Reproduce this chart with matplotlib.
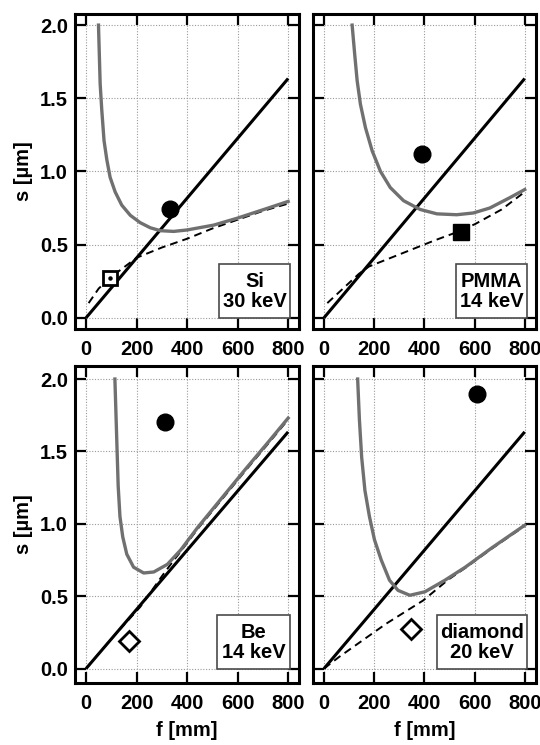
import matplotlib
matplotlib.use("Agg")
import matplotlib.pyplot as plt
from matplotlib.patches import Rectangle

plt.rcParams['font.family'] = ['Liberation Sans', 'DejaVu Sans']
plt.rcParams['font.weight'] = 'bold'

FS = 14.5

# black straight line (same in every panel)
line_f = [0, 800]
line_s = [0.0, 1.635]

# Si 30 keV
si_gray_f = [49, 55.6, 62, 71, 82, 95, 115, 141, 175, 214, 254, 294, 347, 400, 505, 598, 704, 800]
si_gray_s = [2.0, 1.60, 1.42, 1.21, 1.08, 0.96, 0.86, 0.77, 0.70, 0.65, 0.615, 0.595, 0.59, 0.60, 0.633, 0.68, 0.74, 0.795]
si_dash_f = [10, 50, 100, 200, 300, 400, 500, 600, 700, 800]
si_dash_s = [0.10, 0.20, 0.28, 0.41, 0.48, 0.54, 0.61, 0.67, 0.73, 0.78]
si_circle = (331, 0.74)
si_square = (95, 0.27)

# PMMA 14 keV
pm_gray_f = [112, 122, 132, 145, 165, 192, 225, 264, 317, 383, 450, 529, 595, 661, 740, 800]
pm_gray_s = [2.0, 1.805, 1.62, 1.46, 1.30, 1.14, 1.00, 0.89, 0.80, 0.74, 0.71, 0.704, 0.716, 0.75, 0.82, 0.876]
pm_dash_f = [13, 139, 179, 311, 443, 522, 602, 708, 800]
pm_dash_s = [0.10, 0.30, 0.35, 0.44, 0.53, 0.58, 0.64, 0.74, 0.86]
pm_circle = (390, 1.12)
pm_square = (545, 0.585)

# Be 14 keV
be_gray_f = [114, 121, 127, 134, 145, 161, 188, 228, 268, 322, 375, 442, 536, 630, 724, 800]
be_gray_s = [2.0, 1.60, 1.26, 1.05, 0.91, 0.79, 0.70, 0.66, 0.667, 0.72, 0.82, 0.975, 1.175, 1.375, 1.57, 1.73]
be_dash_f = [0, 100, 214, 301, 348, 375, 442, 536, 630, 724, 800]
be_dash_s = [0.0, 0.205, 0.425, 0.64, 0.75, 0.81, 0.965, 1.165, 1.365, 1.56, 1.72]
be_circle = (312, 1.70)
be_diamond = (168, 0.19)

# diamond 20 keV
di_gray_f = [134, 141, 150, 163, 181, 201, 228, 261, 295, 342, 402, 482, 563, 670, 800]
di_gray_s = [2.0, 1.72, 1.46, 1.23, 1.05, 0.89, 0.75, 0.61, 0.54, 0.506, 0.53, 0.61, 0.70, 0.835, 0.99]
di_dash_f = [0, 60, 248, 395, 496, 563, 670, 800]
di_dash_s = [0.0, 0.08, 0.31, 0.47, 0.615, 0.695, 0.83, 0.985]
di_circle = (610, 1.90)
di_diamond = (346, 0.275)

labels = ["Si\n30 keV", "PMMA\n14 keV", "Be\n14 keV", "diamond\n20 keV"]
box_left = [528, 527, 520, 450]

xticks = [0, 200, 400, 600, 800]
yticks = [0.0, 0.5, 1.0, 1.5, 2.0]

W, H = 540, 745
fig = plt.figure(figsize=(W / 100, H / 100), dpi=100)

def frame(l, r, t, b):
    return fig.add_axes([l / W, 1 - b / H, (r - l) / W, (b - t) / H])

ax_tl = frame(75, 299, 14, 329)
ax_tr = frame(313, 535.5, 14, 329)
ax_bl = frame(75, 299, 366, 683)
ax_br = frame(313, 535.5, 366, 683)
axes = [ax_tl, ax_tr, ax_bl, ax_br]

gray = '#707070'
panels = [
    (si_gray_f, si_gray_s, si_dash_f, si_dash_s),
    (pm_gray_f, pm_gray_s, pm_dash_f, pm_dash_s),
    (be_gray_f, be_gray_s, be_dash_f, be_dash_s),
    (di_gray_f, di_gray_s, di_dash_f, di_dash_s),
]

for i, ax in enumerate(axes):
    gf, gs, df, ds = panels[i]
    ax.plot(df, ds, color='black', lw=1.4, dashes=(4, 2.6), zorder=2)
    ax.plot(line_f, line_s, color='black', lw=2.2, zorder=3, solid_capstyle='butt')
    ax.plot(gf, gs, color=gray, lw=2.4, zorder=4, solid_joinstyle='round')

    ax.set_xlim(-44, 843)
    if i < 2:
        ax.set_ylim(-0.077, 2.076)
    else:
        ax.set_ylim(-0.1, 2.09)
    ax.set_xticks(xticks)
    ax.set_yticks(yticks)
    ax.set_xticklabels([str(v) for v in xticks])
    if i % 2 == 0:
        ax.set_yticklabels(["%.1f" % v for v in yticks])
    else:
        ax.set_yticklabels([])
    ax.tick_params(direction='in', length=8, width=1.6, top=True, right=True,
                   labelsize=FS)
    ax.tick_params(axis='x', pad=8)
    ax.tick_params(axis='y', pad=5)
    for sp in ax.spines.values():
        sp.set_linewidth(2.2)
    ax.grid(True, color='#9a9a9a', lw=0.8, ls=(0, (1, 1.5)))
    ax.set_axisbelow(True)

    bl = box_left[i]
    ax.add_patch(Rectangle((bl, 0.0), 808 - bl, 0.37, facecolor='white',
                           edgecolor='#4a4a4a', lw=1.2, zorder=6))
    ax.text((bl + 808) / 2, 0.18, labels[i], ha='center', va='center',
            multialignment='center', linespacing=1.05, fontsize=FS,
            fontweight='bold', zorder=7)

# markers
ax_tl.plot(*si_circle, 'o', color='black', ms=12, zorder=8)
ax_tl.plot(*si_square, 's', mfc='white', mec='black', mew=2, ms=9.5, zorder=8)
ax_tl.plot(*si_square, 'o', color='black', ms=2.2, zorder=9)
ax_tr.plot(*pm_circle, 'o', color='black', ms=12, zorder=8)
ax_tr.plot(*pm_square, 's', color='black', ms=12, zorder=8)
ax_bl.plot(*be_circle, 'o', color='black', ms=12, zorder=8)
ax_bl.plot(*be_diamond, 'D', mfc='white', mec='black', mew=2, ms=10, zorder=8)
ax_br.plot(*di_circle, 'o', color='black', ms=12, zorder=8)
ax_br.plot(*di_diamond, 'D', mfc='white', mec='black', mew=2, ms=10, zorder=8)

for ax in (ax_tl, ax_bl):
    ax.text(-0.232, 0.5, "s [µm]", transform=ax.transAxes, rotation=90,
            ha='center', va='center', fontsize=FS, fontweight='bold')
for ax in (ax_bl, ax_br):
    ax.text(0.5, -0.15, "f [mm]", transform=ax.transAxes,
            ha='center', va='center', fontsize=FS, fontweight='bold')

fig.savefig("out.png", dpi=100)
